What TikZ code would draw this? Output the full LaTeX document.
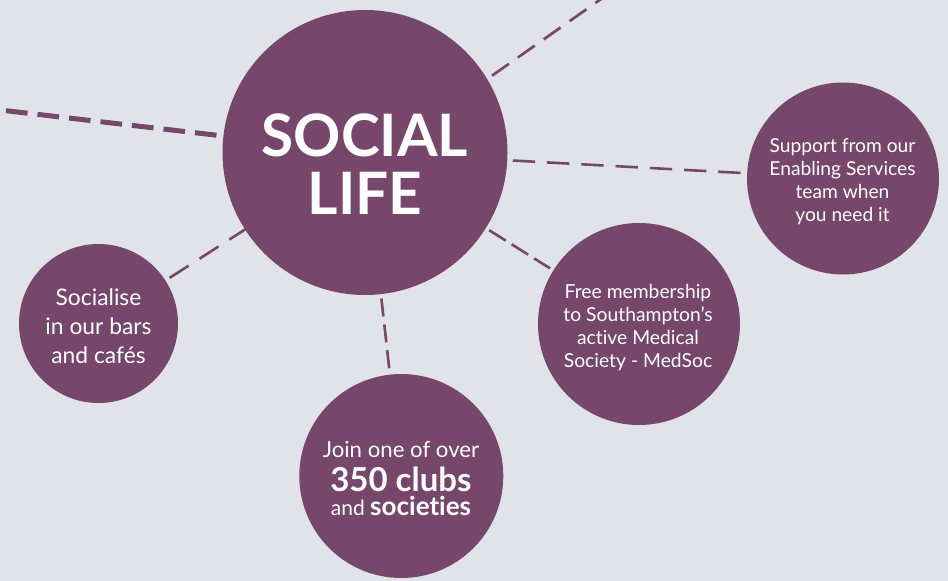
\documentclass[tikz,border=0pt]{standalone}
\usepackage{fontspec}
\setmainfont{Lato}[Ligatures=NoCommon]
\definecolor{plum}{RGB}{118,71,107}
\definecolor{bgc}{RGB}{224,227,232}
\begin{document}
\begin{tikzpicture}[x=1pt,y=-1pt,
  bub/.style={circle,fill=plum,inner sep=0pt,outer sep=0pt},
  txt/.style={text=white,align=center,inner sep=0pt},
  link/.style={draw=plum,line width=2.6pt}]
\fill[bgc] (0,0) rectangle (948,581);
\useasboundingbox (0,0) rectangle (948,581);
% bubbles
\node[bub,minimum size=285pt] (main) at (365,152.5) {};
\node[bub,minimum size=159pt] (soc) at (98.5,323.5) {};
\node[bub,minimum size=204pt] (join) at (401.3,476) {};
\node[bub,minimum size=202pt] (free) at (639,324) {};
\node[bub,minimum size=192pt] (supp) at (843,178.5) {};
% texts
\node[txt,font=\fontsize{58.5}{58}\selectfont\bfseries] (maintxt) at (365,164) {SOCIAL\\LIFE};
\node[txt,font=\fontsize{22.8}{29}\selectfont] (soctxt) at (98.5,326) {Socialise\\in our bars\\and cafés};
\node[txt,font=\fontsize{19.2}{23}\selectfont] (supptxt) at (842.5,181.5) {Support from our\\Enabling Services\\team when\\you need it};
\node[txt,font=\fontsize{19.3}{23.3}\selectfont] (freetxt) at (638,327.5) {Free membership\\to Southampton’s\\active Medical\\Society - MedSoc};
\node[txt,font=\fontsize{22.2}{33.3}\selectfont] (jointxt) at (401,478.5)
  {Join one of over\\{\fontsize{33}{33.3}\selectfont\bfseries 350 clubs}\\[-9.3pt]{\fontsize{21}{33.3}\selectfont and {\fontsize{26}{33.3}\selectfont\bfseries societies}}};
% connectors
\coordinate (lf) at (6,110.7);
\coordinate (trf) at (621,-15);
\draw[link,line width=2.7pt,dash pattern=on 20.6pt off 11pt,shorten <=6pt] (main.31) -- (trf);
\draw[link,line width=5pt,dash pattern=on 21.7pt off 10pt,shorten >=6.5pt] (lf) -- (main);
\draw[link,dash pattern=on 22.3pt off 12pt,shorten <=5.5pt,shorten >=3pt] (main) -- (supp);
\draw[link,dash pattern=on 22.5pt off 13pt,shorten <=5pt] (soc) -- (main);
\draw[link,dash pattern=on 19.5pt off 7pt,shorten <=4pt,shorten >=4pt] (main) -- (free);
\draw[link,dash pattern=on 18pt off 8pt,shorten <=4.5pt,shorten >=6pt] (main) -- (join);
\end{tikzpicture}
\end{document}
